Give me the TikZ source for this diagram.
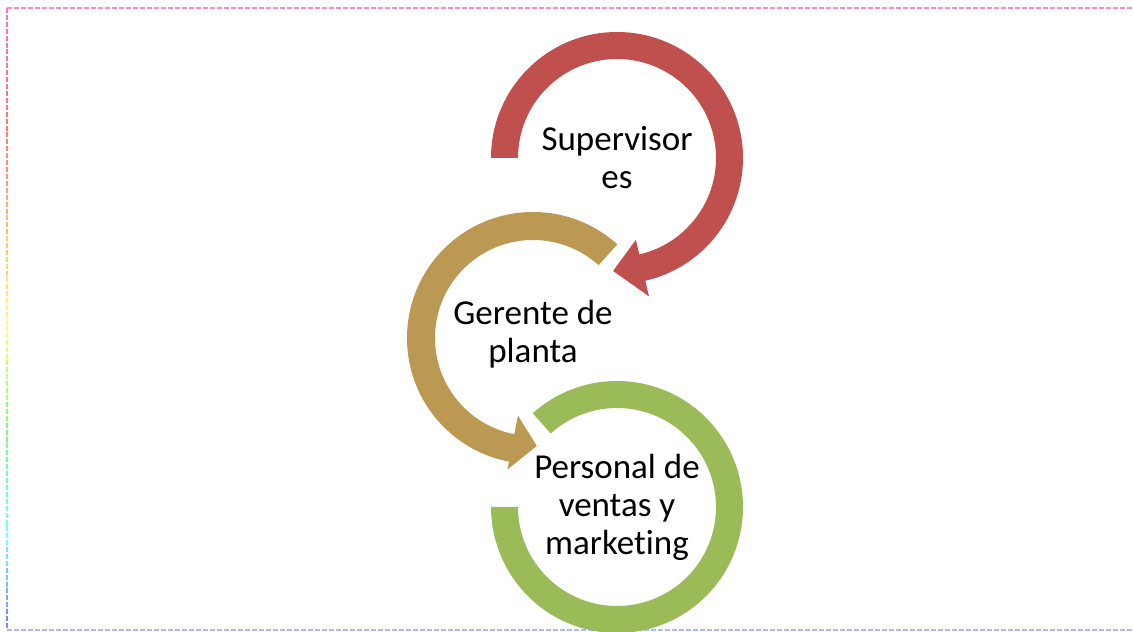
\documentclass[tikz,border=0pt]{standalone}
\usepackage{fontspec}
\setmainfont{Carlito}[Ligatures=NoCommon]
\usetikzlibrary{positioning}
\definecolor{supred}{HTML}{C0504D}
\definecolor{gergold}{HTML}{BB9953}
\definecolor{persgreen}{HTML}{9BBB59}
\definecolor{framepink}{HTML}{FF8AC8}
\definecolor{frameblue}{HTML}{A9BDF2}

\begin{document}
\begin{tikzpicture}[x=1pt,y=1pt]
\tikzstyle{ring text}=[align=center,font=\fontsize{35}{38}\selectfont,text=black,inner sep=0pt]
\tikzstyle{frame}=[line width=1.6pt,dash pattern=on 5pt off 2pt]
\useasboundingbox (0,0) rectangle (1133,632);
% dashed frame
\draw[frame,framepink] (7,624) -- (1133,624);
\draw[frame,frameblue] (7,2) -- (1133,2);
\foreach \i in {0,...,29} {
  \ifnum\i<15
    \pgfmathtruncatemacro\hue{mod(330+\i*6,360)}
  \else
    \pgfmathtruncatemacro\hue{60+(\i-15)*12}
  \fi
  \definecolor{edgec}{Hsb}{\hue,0.55,1}
  \draw[frame,edgec] (7,{624-\i*20.73}) -- (7,{624-(\i+1)*20.73});
}
% ring centres
\coordinate (csup) at (617,474);
\coordinate[below left=180pt and 84pt of csup] (cger);
\coordinate[below=349pt of csup] (cpers);
% rings
\fill[persgreen,shift={(cpers)}] (132:126) arc[start angle=132,end angle=-180,radius=126]
  -- (180:99) arc[start angle=-180,end angle=132,radius=99] -- cycle;
\fill[gergold,shift={(cger)}] (48:126) arc[start angle=48,end angle=259,radius=126]
  -- (259:134) -- (272:108) -- (259:79) -- (259:98)
  arc[start angle=259,end angle=48,radius=98] -- cycle;
\fill[supred,shift={(csup)}] (180:126) arc[start angle=180,end angle=-77,radius=126]
  -- (-77:142) -- (-92:113) -- (-77:84) -- (-77:99)
  arc[start angle=-77,end angle=180,radius=99] -- cycle;
% labels
\node[ring text] (sup) at (csup) {Supervisor\\es};
\node[ring text] (ger) at ([yshift=4pt]cger) {Gerente de\\planta};
\node[ring text] (pers) at (cpers) {Personal de\\ventas y\\marketing};
\end{tikzpicture}
\end{document}
